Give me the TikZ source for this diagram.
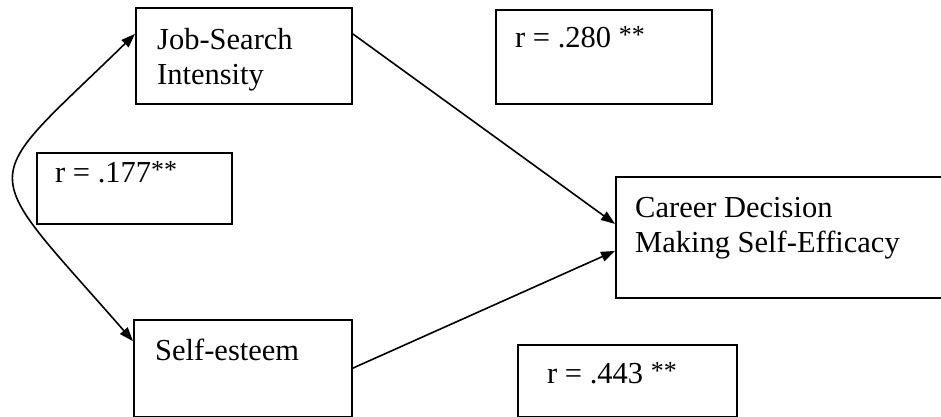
\documentclass[tikz,border=0pt]{standalone}
\usepackage{fontspec}
\setmainfont{Liberation Serif}
\usetikzlibrary{arrows.meta}
\newcommand{\stars}{\raisebox{4pt}{\fontsize{26}{26}\selectfont **}}
\tikzset{
  box/.style={draw, line width=1.8pt, inner sep=0pt, anchor=north west},
  lbl/.style={anchor=base west, inner sep=0pt, font=\fontsize{30.5}{36}\selectfont},
  conn/.style={line width=1.6pt, -{Triangle[length=14pt,width=10pt]}}
}
\begin{document}
\begin{tikzpicture}[x=1pt,y=-1pt]
\useasboundingbox (0,0) rectangle (941,416);
% boxes
\node[box, minimum width=216pt, minimum height=96pt] (js) at (135,7) {};
\node[box, minimum width=216pt, minimum height=94pt] (r280) at (495,9) {};
\node[box, minimum width=195pt, minimum height=71pt] (r177) at (36,152) {};
\node[box, minimum width=335pt, minimum height=121pt] (cd) at (615,176) {};
\node[box, minimum width=218pt, minimum height=96.5pt] (se) at (133,319) {};
\node[box, minimum width=219pt, minimum height=71.5pt] (r443) at (517,344) {};
% texts
\node[lbl] (t1) at (157,49) {Job-Search};
\node[lbl] (t2) at (157,84) {Intensity};
\node[lbl] (t3) at (515,47) {r = .280 \stars};
\node[lbl] (t4) at (55,182) {r = .177\stars};
\node[lbl] (t5) at (635,217) {Career Decision};
\node[lbl] (t6) at (635,252) {Making Self-Efficacy};
\node[lbl] (t7) at (155,360) {Self-esteem};
\node[lbl] (t8) at (547,383) {r = .443 \stars};
% connectors
\draw[conn] ([yshift=22pt]js.east) -- ([yshift=13.5pt]cd.west);
\draw[conn] (se.east) -- ([yshift=-13.5pt]cd.west);
\draw[line width=1.6pt, {Triangle[length=14pt,width=10pt]}-{Triangle[length=14pt,width=10pt]}]
  ([yshift=22pt]js.west) .. controls (-25,190) and (-25,160) .. ([yshift=27pt]se.west);
\end{tikzpicture}
\end{document}
